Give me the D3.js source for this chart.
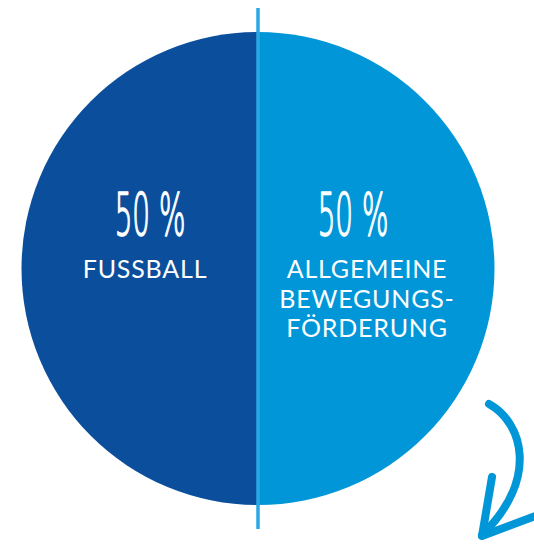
<!DOCTYPE html>
<html>
<head>
<meta charset="utf-8">
<script src="https://cdn.jsdelivr.net/npm/d3@7"></script>
<style>
  body { margin: 0; background: #fff; }
  svg { display: block; }
</style>
</head>
<body>
<div id="chart"></div>
<script>
var width = 534;
var height = 544;

// data
var categories = ['FUSSBALL', 'ALLGEMEINE BEWEGUNGS- FÖRDERUNG'];
var labelLines = [['FUSSBALL'], ['ALLGEMEINE', 'BEWEGUNGS-', 'FÖRDERUNG']];
var values = [50, 50];
var colors = ['#0b4f9c', '#0096d8'];

var cx = 258, cy = 268.5, radius = 236.5;

var svg = d3.select('#chart')
  .append('svg')
  .attr('width', width)
  .attr('height', height);

var pie = d3.pie()
  .sort(null)
  .startAngle(Math.PI)
  .endAngle(3 * Math.PI);

var arc = d3.arc()
  .innerRadius(0)
  .outerRadius(radius);

var g = svg.append('g')
  .attr('transform', 'translate(' + cx + ',' + cy + ')');

var slices = pie(values);

g.selectAll('path.slice')
  .data(slices)
  .enter()
  .append('path')
  .attr('class', 'slice')
  .attr('d', arc)
  .style('fill', function(d, i) { return colors[i]; });

// divider line through the middle
g.append('line')
  .attr('x1', 0).attr('x2', 0)
  .attr('y1', -radius - 24).attr('y2', radius + 24)
  .style('stroke', '#2ba7e4')
  .style('stroke-width', 3.5);

// percent labels
var pctPos = [[-108, -34], [95, -34]];
var labelPos = [[-113, 0], [109, 0]];

g.selectAll('text.pct')
  .data(slices)
  .enter()
  .append('text')
  .attr('class', 'pct')
  .attr('transform', function(d, i) {
    return 'translate(' + pctPos[i][0] + ',' + pctPos[i][1] + ') scale(0.48,1)';
  })
  .attr('text-anchor', 'middle')
  .style('font-family', 'DejaVu Sans')
  .style('font-weight', 200)
  .style('font-size', '58px')
  .style('fill', '#fff')
  .style('stroke', '#fff')
  .style('stroke-width', 1.6)
  .style('stroke-linejoin', 'round')
  .text(function(d) { return d.data + ' %'; });

var labels = g.selectAll('text.lbl')
  .data(slices)
  .enter()
  .append('text')
  .attr('class', 'lbl')
  .attr('text-anchor', 'middle')
  .attr('y', function(d, i) { return labelPos[i][1] + 9.5; })
  .style('font-family', 'Lato')
  .style('font-size', '25px')
  .style('letter-spacing', '0.8px')
  .style('fill', '#fff');

labels.each(function(d, i) {
  d3.select(this).selectAll('tspan')
    .data(labelLines[i])
    .enter()
    .append('tspan')
    .attr('x', labelPos[i][0])
    .attr('dy', function(t, j) { return j === 0 ? 0 : 29.5; })
    .text(function(t) { return t; });
});

// curved arrow, bottom right
var arrow = svg.append('g')
  .style('fill', 'none')
  .style('stroke', '#0096d8')
  .style('stroke-width', 8)
  .style('stroke-linecap', 'round')
  .style('stroke-linejoin', 'round');

arrow.append('path')
  .attr('d', 'M489,404 C522,422 540,478 482,535');
arrow.append('path')
  .attr('d', 'M492,477 L482,536 L538,515');
</script>
</body>
</html>
